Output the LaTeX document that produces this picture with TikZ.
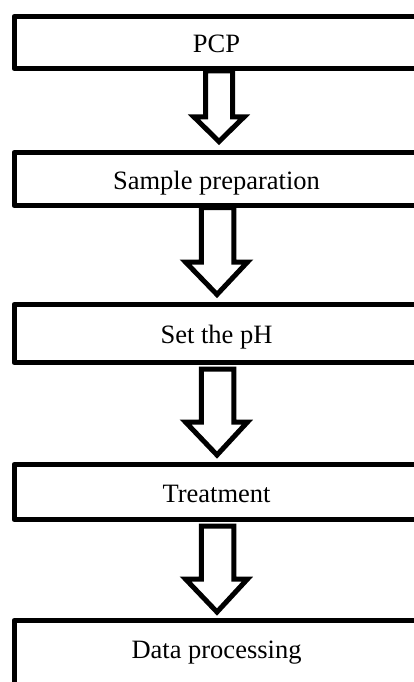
\documentclass[tikz,border=0pt]{standalone}
\usepackage{fontspec}
\setmainfont{Liberation Serif}
\usetikzlibrary{calc}
\tikzset{
  stagebox/.style={draw=black, fill=white, line width=5pt, line join=round,
    minimum width=405pt, inner sep=0pt, outer sep=0pt,
    font=\fontsize{26.5}{30}\selectfont, text height=22pt, text depth=2pt},
  blockarrow/.style={draw=black, fill=white, line width=5pt, line join=miter, miter limit=10}
}
% #1 node, #2 shaft top, #3 shaft left, #4 shaft right, #5 head top,
% #6 head left, #7 head right, #8 tip x, #9 tip y (all relative to #1.south)
\newcommand\fatarrow[9]{%
  \draw[blockarrow] ($(#1.south)+(#3,#2)$) -- ($(#1.south)+(#4,#2)$)
    -- ($(#1.south)+(#4,#5)$) -- ($(#1.south)+(#7,#5)$)
    -- ($(#1.south)+(#8,#9)$) -- ($(#1.south)+(#6,#5)$)
    -- ($(#1.south)+(#3,#5)$) -- cycle;}
\begin{document}
\begin{tikzpicture}[x=1pt, y=-1pt]
\useasboundingbox (0,0) rectangle (414,682);
\node[stagebox, minimum height=52pt] (b1) at (216.5,42.5) {PCP};
\node[stagebox, minimum height=53pt] (b2) at (216.5,179) {Sample preparation};
\node[stagebox, minimum height=58pt] (b3) at (216.5,333.5) {Set the pH};
\node[stagebox, minimum height=55pt] (b4) at (216.5,492) {Treatment};
\node[stagebox, minimum height=80pt, text height=20pt, text depth=24.5pt] (b5) at (216.5,660.5) {Data processing};
\fatarrow{b1}{2.5}{-11}{16}{48.5}{-22.5}{27.5}{2.5}{73}
\fatarrow{b2}{2}{-15.25}{17.25}{56.5}{-31}{31}{0.5}{89}
\fatarrow{b3}{6.5}{-15.25}{17.25}{59.5}{-31}{31}{0.5}{92.5}
\fatarrow{b4}{6.5}{-15.25}{17.25}{59.5}{-31}{31}{0.5}{92.5}
\end{tikzpicture}
\end{document}
